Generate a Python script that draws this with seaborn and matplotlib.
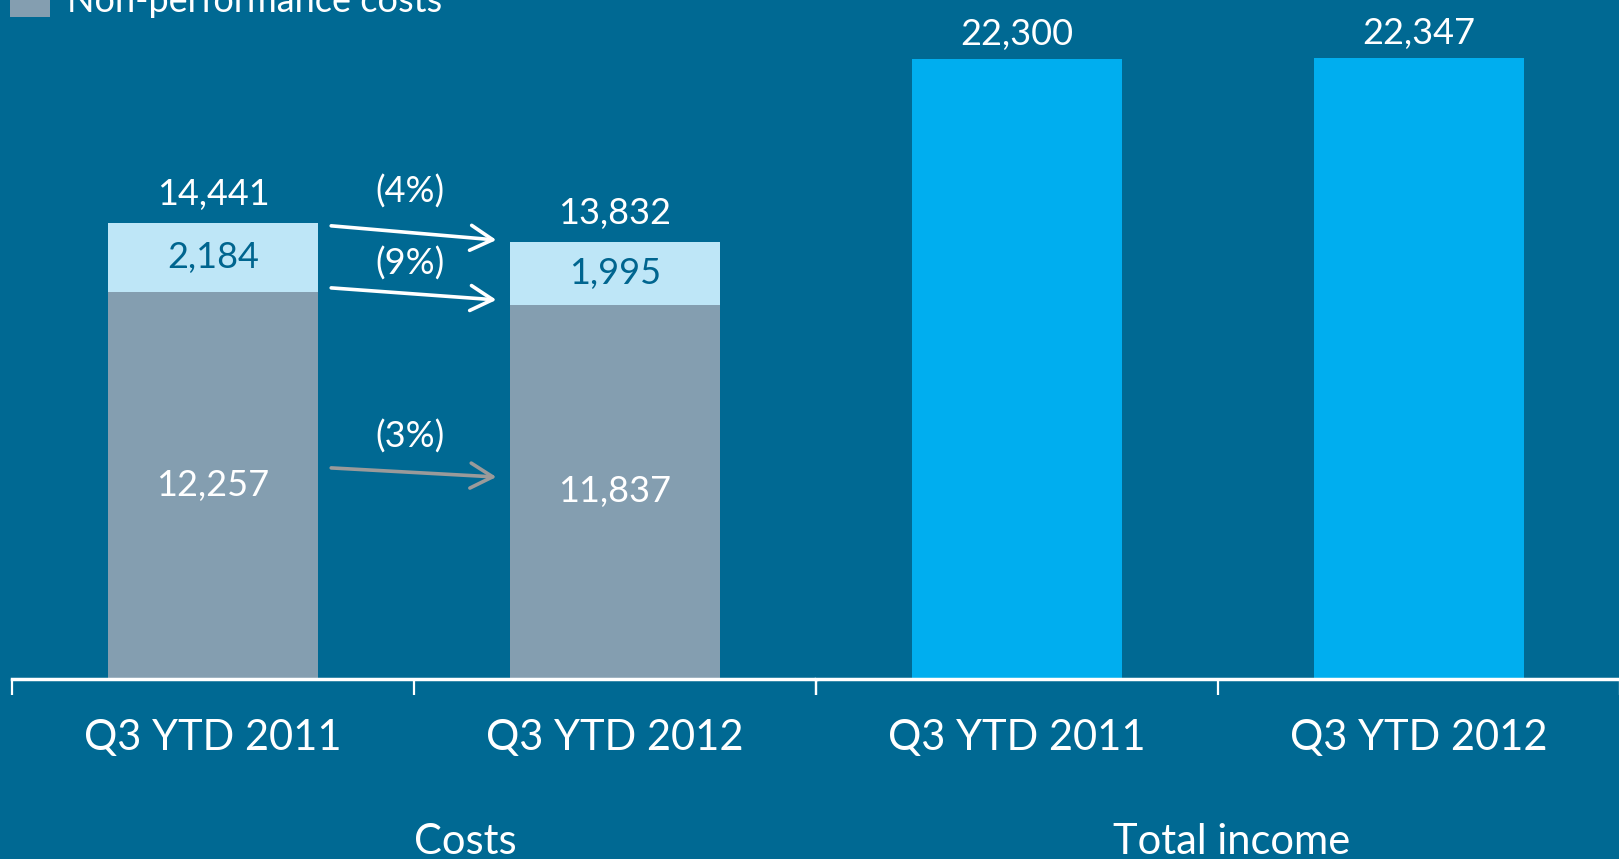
### Bibliotheken
import matplotlib
matplotlib.use("Agg")
import matplotlib.pyplot as plt
import seaborn as sns
from matplotlib.patches import Rectangle

### Daten
periods = ["Q3 YTD 2011", "Q3 YTD 2012"]
cost_total = [14441, 13832]
cost_performance = [2184, 1995]
cost_non_performance = [12257, 11837]
income_total = [22300, 22347]
change_labels = ["(4%)", "(9%)", "(3%)"]
group_labels = ["Costs", "Total income"]
legend_label = "Non-performance costs"

### Farben
bg = "#006993"
c_grey = "#849EB0"
c_light = "#BEE6F7"
c_income = "#00AEEF"
c_dark_text = "#00658F"
c_arrow_grey = "#9A9A9A"

sns.set_theme(style="white")
plt.rcParams["font.family"] = ["Lato", "DejaVu Sans"]

W, H = 1619, 859
fig = plt.figure(figsize=(W / 100, H / 100), dpi=100, facecolor=bg)

# zwei Achsen nebeneinander, jeweils eigene y-Skala
ax_c = fig.add_axes([12 / W, 180 / H, 804 / W, 679 / H])
ax_i = fig.add_axes([816 / W, 180 / H, 804 / W, 679 / H])

# Kosten: gestapelt (Gesamt hinten, Non-performance vorne)
bar_kw = dict(saturation=1, width=0.52, linewidth=0, edgecolor="none")
sns.barplot(x=periods, y=cost_total, color=c_light, ax=ax_c, **bar_kw)
sns.barplot(x=periods, y=cost_non_performance, color=c_grey, ax=ax_c, **bar_kw)

# Einnahmen
sns.barplot(x=periods, y=income_total, color=c_income, ax=ax_i, **bar_kw)

ax_c.set_ylim(0, 679 / 0.0316)
ax_i.set_ylim(0, 679 / 0.0278)

for ax in (ax_c, ax_i):
    ax.set_facecolor(bg)
    ax.set_xlim(-0.5, 1.5)
    for s in ("top", "right", "left"):
        ax.spines[s].set_visible(False)
    ax.spines["bottom"].set_color("white")
    ax.spines["bottom"].set_linewidth(2.5)
    ax.set_yticks([])
    ax.set_xlabel("")
    ax.set_ylabel("")
    ax.set_xticks([0, 1])
    ax.set_xticklabels(periods)
    ax.set_xticks([-0.5, 0.5, 1.5], minor=True)
    ax.tick_params(axis="x", which="major", length=0, pad=29, labelsize=30, labelcolor="white")
    ax.tick_params(axis="x", which="minor", length=11.5, width=1.6, color="white", direction="out", bottom=True)

# Wertebeschriftungen
for i in range(len(periods)):
    ax_c.annotate(f"{cost_total[i]:,}", (i, cost_total[i]), xytext=(0, 13), textcoords="offset points",
                  ha="center", va="baseline", fontsize=26, color="white")
    ax_c.text(i, cost_non_performance[i] + cost_performance[i] / 2, f"{cost_performance[i]:,}",
              ha="center", va="center", fontsize=26, color=c_dark_text)
    ax_c.text(i, cost_non_performance[i] / 2, f"{cost_non_performance[i]:,}",
              ha="center", va="center", fontsize=26, color="white")
    ax_i.annotate(f"{income_total[i]:,}", (i, income_total[i]), xytext=(0, 10), textcoords="offset points",
                  ha="center", va="baseline", fontsize=26, color="white")

# Pfeile mit Veränderung
arrows = [
    (cost_total[0] - 100, cost_total[1] + 60, "white", change_labels[0], 30),
    (cost_non_performance[0] + 120, cost_non_performance[1] + 160, "white", change_labels[1], 22),
    (cost_non_performance[0] * 0.545, cost_non_performance[1] * 0.54, c_arrow_grey, change_labels[2], 26),
]
for y0, y1, col, lab, off in arrows:
    ax_c.annotate("", xy=(0.705, y1), xytext=(0.294, y0),
                  arrowprops=dict(arrowstyle="->,head_length=0.8,head_width=0.45", color=col, lw=2.6,
                                  mutation_scale=20, shrinkA=0, shrinkB=0))
    ax_c.annotate(lab, ((0.294 + 0.705) / 2 - 0.01, (y0 + y1) / 2), xytext=(0, off), textcoords="offset points",
                  ha="center", va="center", fontsize=26, color="white")

# Gruppenbeschriftungen unten
fig.text(465 / W, 5 / H, group_labels[0], ha="center", va="baseline", fontsize=30, color="white")
fig.text(1232 / W, 5 / H, group_labels[1], ha="center", va="baseline", fontsize=30, color="white")

# Legende (oben abgeschnitten)
fig.patches.append(Rectangle((10 / W, 1 - 17 / H), 40 / W, 40 / H, transform=fig.transFigure,
                             facecolor=c_grey, edgecolor="none"))
fig.text(67 / W, 1 - 12 / H, legend_label, ha="left", va="baseline", fontsize=26, color="white")

fig.savefig("out.png", dpi=100, facecolor=bg)
